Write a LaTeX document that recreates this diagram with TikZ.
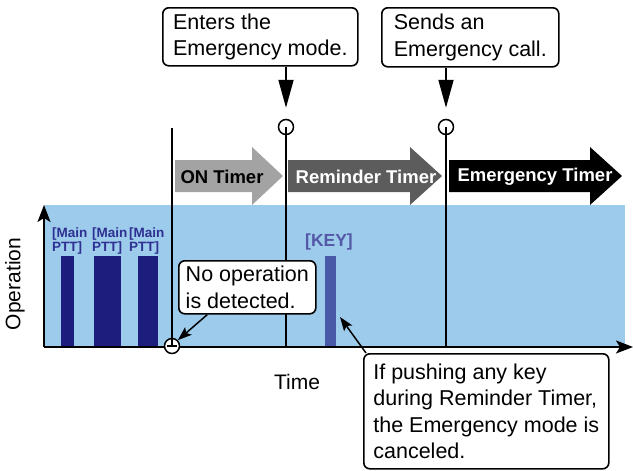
\documentclass[tikz,border=0pt]{standalone}
\usepackage{fontspec}
\setmainfont{Liberation Sans}
\usetikzlibrary{arrows.meta,positioning,calc}

\definecolor{opbg}{HTML}{9DCBEB}
\definecolor{pttbar}{HTML}{1D1D7E}
\definecolor{pttlbl}{HTML}{2E3192}
\definecolor{keybar}{HTML}{4A58A8}
\definecolor{keylbl}{HTML}{5558A6}
\definecolor{ontimer}{HTML}{A3A3A3}
\definecolor{remtimer}{HTML}{5C5C5C}

\begin{document}
\begin{tikzpicture}[x=1pt,y=-1pt,>=Stealth,
  note/.style={draw,line width=1.6pt,rounded corners=6pt,fill=white,align=left,anchor=north west,
    inner xsep=6pt,inner ysep=2pt,font=\fontsize{21.5}{26.5}\selectfont},
  timemark/.style={circle,draw,line width=1.5pt,fill=white,minimum size=15pt,inner sep=0pt},
  ptt/.style={anchor=west,align=left,inner sep=0pt,text=pttlbl,font=\fontsize{13.5}{14.5}\selectfont\bfseries},
  tlabel/.style={font=\fontsize{18.5}{20}\selectfont\bfseries},
  callarrow/.style={-{Triangle[length=28pt,width=15pt]},line width=1.8pt},
  ptrarrow/.style={-{Stealth[length=14pt,width=10pt,inset=3pt]},line width=1.5pt},
  axis/.style={-{Stealth[length=17pt,width=13pt,inset=4pt]},line width=1.6pt}]
\useasboundingbox (0,0) rectangle (633,471);

% operation area
\fill[opbg] (44,205) rectangle (625,347);
\coordinate (o) at (44,347);
\coordinate (xend) at (633,347);
\coordinate (yend) at (44,205);

% PTT and key presses
\fill[pttbar] (61,256) rectangle (74,347);
\fill[pttbar] (94,256) rectangle (121,347);
\fill[pttbar] (138,256) rectangle (158,347);
\fill[keybar] (325,256) rectangle (336,347);
\coordinate (keytop) at (340,317);
\node[ptt] (p1) at (52,241) {[Main\\PTT]};
\node[ptt] (p2) at (92,241) {[Main\\PTT]};
\node[ptt] (p3) at (129,241) {[Main\\PTT]};
\node[tlabel,text=keylbl,font=\fontsize{17.5}{20}\selectfont\bfseries] (key) at (329,242) {[KEY]};

% axes
\draw[axis] (o) -- (yend);
\draw[axis] (o) -- (xend);
\node[rotate=90,font=\fontsize{21}{24}\selectfont] (ylbl) at (15,284) {Operation};
\node[font=\fontsize{21}{24}\selectfont] (xlbl) at (297,382) {Time};

% timers
\fill[ontimer] (175,160) -- (252,160) -- (252,147) -- (283,176) -- (252,205) -- (252,192) -- (175,192) -- cycle;
\fill[remtimer] (288,160) -- (410,160) -- (410,147) -- (442,176) -- (410,205) -- (410,192) -- (288,192) -- cycle;
\fill[black] (449,160) -- (590,160) -- (590,147) -- (622,176) -- (590,205) -- (590,192) -- (449,192) -- cycle;
\node[tlabel] (on) at (222,177) {ON Timer};
\node[tlabel,text=white] (rem) at (366,177) {Reminder Timer};
\node[tlabel,text=white] (emg) at (535,177) {Emergency Timer};

% time marks
\coordinate (idle) at (172,128);
\node[timemark] (t0) at (172,346) {};
\draw[line width=1.6pt] (idle) -- (t0.center);
\draw[line width=1.5pt] ([xshift=-5pt]t0.center) -- ([xshift=5pt]t0.center);
\node[timemark] (t1) at (286,127) {};
\draw[line width=1.6pt] (t1.center) -- (t1.center |- o);
\node[timemark] (t2) at (446,127) {};
\draw[line width=1.6pt] (t2.center) -- (t2.center |- o);

% callouts
\node[note,minimum width=195pt,minimum height=58pt] (enter) at (162,7) {Enters the\\Emergency mode.};
\node[note,minimum width=177pt,minimum height=59pt] (send) at (381,7) {Sends an\\Emergency call.};
\node[note,inner xsep=4pt,minimum width=137pt,minimum height=53pt] (noop) at (178,260) {No operation\\is detected.};
\node[note,minimum width=245pt,minimum height=115pt] (cancel) at (363,353) {If pushing any key\\during Reminder Timer,\\the Emergency mode is\\canceled.};
\draw[callarrow] (enter.south -| t1) -- ([yshift=11pt]t1.north);
\draw[callarrow] (send.south -| t2) -- ([yshift=11pt]t2.north);
\draw[ptrarrow] ([xshift=-40pt]noop.south) -- (t0.north east);
\draw[ptrarrow] ([xshift=3pt]cancel.north west) -- (keytop);
\end{tikzpicture}
\end{document}
